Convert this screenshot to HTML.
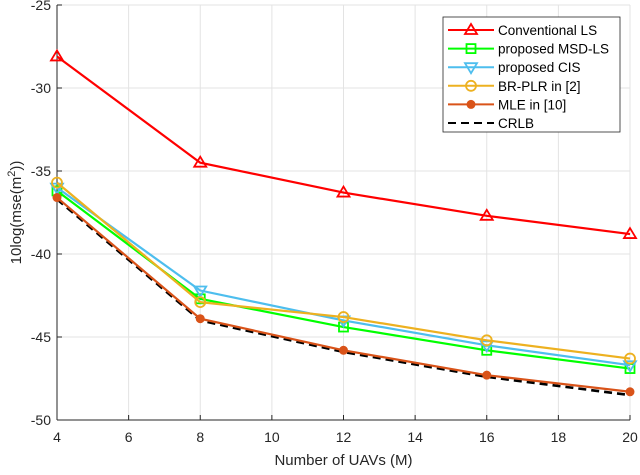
<!DOCTYPE html>
<html><head><meta charset="utf-8"><style>
body{margin:0;background:#fff;}
svg text{font-family:"Liberation Sans",sans-serif;}
</style></head><body>
<svg id="chart" width="640" height="470" xmlns="http://www.w3.org/2000/svg"></svg>
<script>
const xValues=[4,8,12,16,20];
const lsValues=[-28.1,-34.5,-36.3,-37.7,-38.8];
const msdValues=[-36.2,-42.7,-44.4,-45.8,-46.9];
const cisValues=[-36.0,-42.2,-44.0,-45.5,-46.7];
const brValues=[-35.7,-42.9,-43.8,-45.2,-46.3];
const mleValues=[-36.6,-43.9,-45.8,-47.3,-48.3];
const crlbValues=[-36.7,-44.0,-45.9,-47.4,-48.5];
const xTicks=[4,6,8,10,12,14,16,18,20];
const yTicks=[-50,-45,-40,-35,-30,-25];
const seriesNames=["Conventional LS","proposed MSD-LS","proposed CIS","BR-PLR in [2]","MLE in [10]","CRLB"];

const NS="http://www.w3.org/2000/svg";
const svg=document.getElementById('chart');
const L=57,R=630,T=5,B=420;
const xs=v=>L+(v-4)/16*(R-L);
const ys=v=>T+(-25-v)/25*(B-T);
function mk(tag,attrs,parent){const e=document.createElementNS(NS,tag);for(const k in attrs)e.setAttribute(k,attrs[k]);(parent||svg).appendChild(e);return e;}

mk('rect',{x:L,y:T,width:R-L,height:B-T,fill:'#fff'});
const grid=mk('g',{});


xTicks.forEach(t=>{mk('line',{x1:xs(t),x2:xs(t),y1:T,y2:B,stroke:'#e3e3e3','stroke-width':1},grid);});
yTicks.forEach(t=>{mk('line',{x1:L,x2:R,y1:ys(t),y2:ys(t),stroke:'#e3e3e3','stroke-width':1},grid);});

const xAxis=mk('g',{});


mk('line',{x1:L,x2:R,y1:B,y2:B,stroke:'#262626'},xAxis);
xTicks.forEach(t=>{
  mk('line',{x1:xs(t),x2:xs(t),y1:B,y2:B-5,stroke:'#262626'},xAxis);
  const tx=mk('text',{x:xs(t),y:B+22,'text-anchor':'middle','font-size':14,fill:'#262626'},xAxis);tx.textContent=t;
  
  
});
const yAxis=mk('g',{});


mk('line',{x1:L,x2:L,y1:T,y2:B,stroke:'#262626'},yAxis);
yTicks.forEach(t=>{
  mk('line',{x1:L,x2:L+5,y1:ys(t),y2:ys(t),stroke:'#262626'},yAxis);
  const tx=mk('text',{x:L-6,y:ys(t)+5,'text-anchor':'end','font-size':14,fill:'#262626'},yAxis);tx.textContent=t;
  
  
});
const xt=mk('text',{x:(L+R)/2,y:465,'text-anchor':'middle','font-size':15,fill:'#262626'});
xt.textContent='Number of UAVs (M)';


const yt=mk('text',{x:0,y:0,'text-anchor':'middle','font-size':15,fill:'#262626',transform:'translate(21,'+((T+B)/2)+') rotate(-90)'});
yt.innerHTML='10log(mse(m<tspan dy="-6" font-size="11">2</tspan><tspan dy="6">))</tspan>';



function marker(g,type,x,y,c){
  if(type==='tri')mk('polygon',{points:`${x},${y-6} ${x-6},${y+4} ${x+6},${y+4}`,fill:'none',stroke:c,'stroke-width':1.8},g);
  else if(type==='sq')mk('rect',{x:x-4.5,y:y-4.5,width:9,height:9,fill:'none',stroke:c,'stroke-width':1.8},g);
  else if(type==='vtri')mk('polygon',{points:`${x},${y+6} ${x-6},${y-4} ${x+6},${y-4}`,fill:'none',stroke:c,'stroke-width':1.8},g);
  else if(type==='circ')mk('circle',{cx:x,cy:y,r:5,fill:'none',stroke:c,'stroke-width':1.8},g);
  else if(type==='star')mk('circle',{cx:x,cy:y,r:4,fill:c,stroke:c,'stroke-width':1},g);
}
const series=[
 {vals:lsValues,c:'#ff0000',m:'tri',dash:null,name:'series-conventional-ls'},
 {vals:msdValues,c:'#00ff00',m:'sq',dash:null,name:'series-msd-ls'},
 {vals:cisValues,c:'#4dbeee',m:'vtri',dash:null,name:'series-cis'},
 {vals:brValues,c:'#edb120',m:'circ',dash:null,name:'series-br-plr'},
 {vals:crlbValues,c:'#000000',m:null,dash:'8,5',name:'series-crlb'},
 {vals:mleValues,c:'#d95319',m:'star',dash:null,name:'series-mle'}
];
series.forEach(s=>{
  const g=mk('g',{});
  
  
  const pts=s.vals.map((v,i)=>xs(xValues[i])+','+ys(v)).join(' ');
  const a={points:pts,fill:'none',stroke:s.c,'stroke-width':2.2};
  if(s.dash){a['stroke-dasharray']=s.dash;a['stroke-width']=2.6;}
  mk('polyline',a,g);
  if(s.m)s.vals.forEach((v,i)=>marker(g,s.m,xs(xValues[i]),ys(v),s.c));
});

const lg=mk('g',{});


mk('rect',{x:443,y:17,width:177,height:115,fill:'#fff',stroke:'#262626','stroke-width':0.8},lg);
const legStyle=[['#ff0000','tri',null],['#00ff00','sq',null],['#4dbeee','vtri',null],['#edb120','circ',null],['#d95319','star',null],['#000000',null,'8,5']];
seriesNames.forEach((n,i)=>{
  const y=30+i*18.6;
  const e=mk('g',{},lg);
  
  
  const [c,m,d]=legStyle[i];
  const a={x1:448,x2:494,y1:y,y2:y,stroke:c,'stroke-width':2};
  if(d)a['stroke-dasharray']=d;
  mk('line',a,e);
  if(m)marker(e,m,471,y,c);
  const t=mk('text',{x:498,y:y+5,'font-size':13.5,fill:'#000'},e);t.textContent=n;
});
</script>
</body></html>
